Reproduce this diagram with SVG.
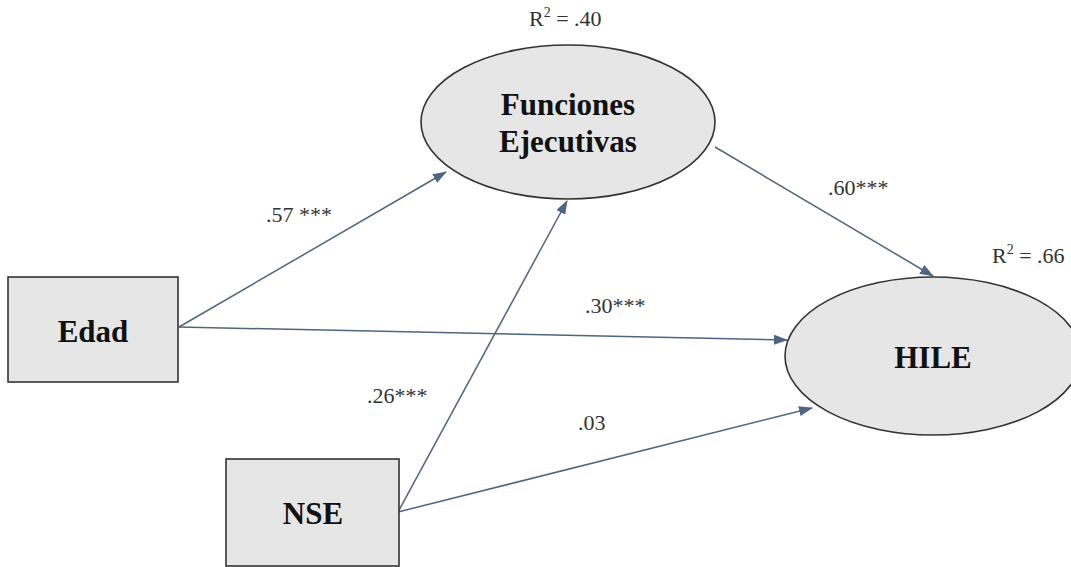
<svg xmlns="http://www.w3.org/2000/svg" width="1071" height="567" viewBox="0 0 1071 567">
<style>
.node{fill:#e6e6e6;stroke:#333;stroke-width:1.6}
.nt{font-family:"Liberation Serif","Times New Roman",serif;font-weight:bold;font-size:31px;fill:#111;text-anchor:middle}
.lbl{font-family:"Liberation Serif","Times New Roman",serif;font-size:22px;fill:#333}
.r2{font-family:"Liberation Serif","Times New Roman",serif;font-size:22px;fill:#333}
.edge{stroke:#4f6581;stroke-width:1.5;fill:none;marker-end:url(#ah)}
</style>
<defs>
<marker id="ah" markerUnits="userSpaceOnUse" markerWidth="14" markerHeight="10" refX="13" refY="5" orient="auto">
<path d="M0,0 L14,5 L0,10 Z" fill="#4f6581"/>
</marker>
</defs>
<rect width="1071" height="567" fill="#fff"/>
<g id="connectors">
<line class="edge" x1="179" y1="327" x2="446" y2="172"/>
<line class="edge" x1="179" y1="327" x2="787" y2="340"/>
<line class="edge" x1="398" y1="512" x2="567" y2="201"/>
<line class="edge" x1="398" y1="512" x2="812" y2="408"/>
<line class="edge" x1="715" y1="147" x2="933" y2="276"/>
</g>
<g id="node-fe">
<ellipse class="node" cx="568" cy="122" rx="147" ry="77"/>
<text class="nt" x="568" y="115">Funciones</text>
<text class="nt" x="568" y="152">Ejecutivas</text>
</g>
<g id="node-edad">
<rect class="node" x="8" y="277" width="170" height="105"/>
<text class="nt" x="93" y="342">Edad</text>
</g>
<g id="node-nse">
<rect class="node" x="226" y="459" width="173" height="107"/>
<text class="nt" x="313" y="524">NSE</text>
</g>
<g id="node-hile">
<ellipse class="node" cx="933" cy="356" rx="148" ry="79"/>
<text class="nt" x="933" y="368">HILE</text>
</g>
<g id="labels">
<text class="r2" x="529" y="26">R<tspan font-size="14" dy="-9">2</tspan><tspan dy="9"> = .40</tspan></text>
<text class="r2" x="992" y="263">R<tspan font-size="14" dy="-9">2</tspan><tspan dy="9"> = .66</tspan></text>
<text class="lbl" x="266" y="222">.57 ***</text>
<text class="lbl" x="367" y="403">.26***</text>
<text class="lbl" x="828" y="195">.60***</text>
<text class="lbl" x="585" y="313">.30***</text>
<text class="lbl" x="578" y="430">.03</text>
</g>
</svg>
